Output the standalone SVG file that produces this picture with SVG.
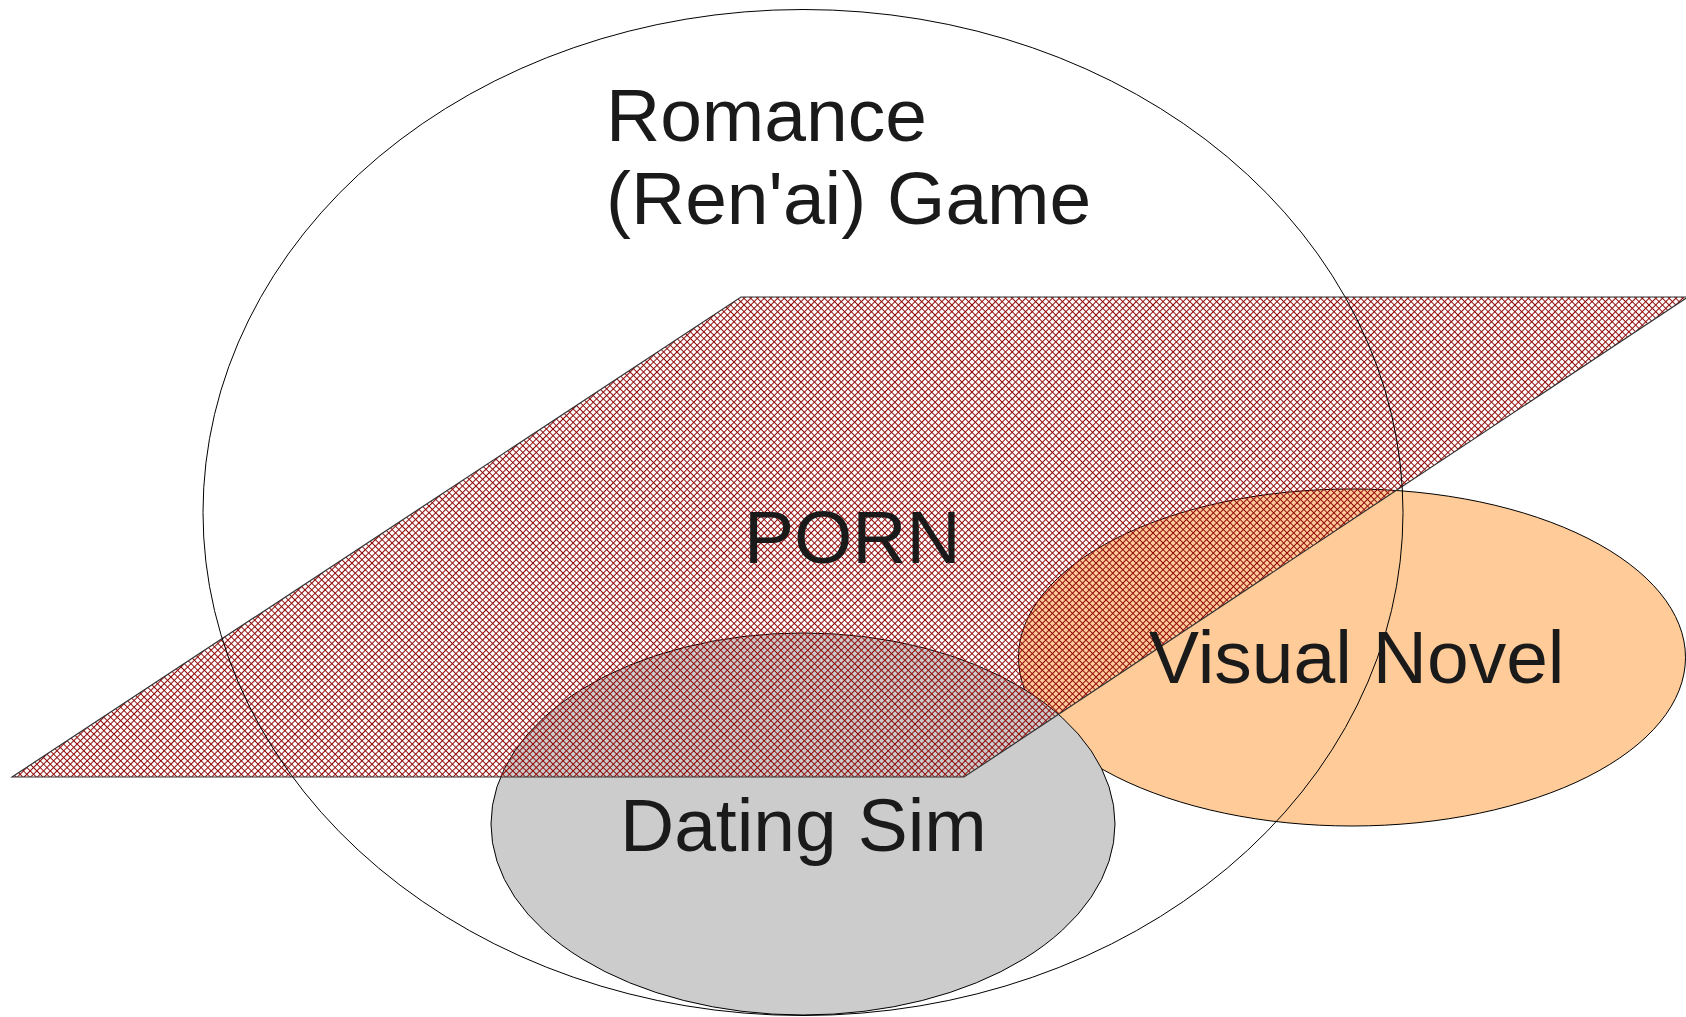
<svg xmlns="http://www.w3.org/2000/svg" width="1686" height="1017" viewBox="0 0 1686 1017">
<style>
.lbl{font-family:"Liberation Sans",Arial,sans-serif;font-size:75px;fill:#1a1a1a}
.shape{stroke:#000;stroke-width:1}
</style>
<defs>
<pattern id="hatch" patternUnits="userSpaceOnUse" width="4.74" height="4.74" patternTransform="rotate(45)">
<path d="M0,2.37 H4.74 M2.37,0 V4.74" stroke="#900808" stroke-width="1.05" fill="none"/>
</pattern>
</defs>
<rect width="1686" height="1017" fill="#ffffff"/>
<g id="visual-novel">
<ellipse class="shape" cx="1352" cy="657.5" rx="333.5" ry="168.5" fill="#ffcc99"/>
</g>
<g id="dating-sim">
<ellipse class="shape" cx="803" cy="824" rx="312" ry="191" fill="#cccccc"/>
</g>
<g id="porn">
<polygon points="12,777 741,297 1688,297 964,777" fill="url(#hatch)" stroke="#333333" stroke-width="1.2"/>
</g>
<g id="romance">
<ellipse class="shape" cx="803" cy="512.5" rx="600" ry="503" fill="none"/>
</g>
<g id="connectors"></g>
<g id="labels">
<text class="lbl" x="606" y="141">Romance</text>
<text class="lbl" x="606" y="223.5">(Ren'ai) Game</text>
<text class="lbl" x="744" y="562.7">PORN</text>
<text class="lbl" x="1149" y="682.7">Visual Novel</text>
<text class="lbl" x="620" y="850.7">Dating Sim</text>
</g>
</svg>
